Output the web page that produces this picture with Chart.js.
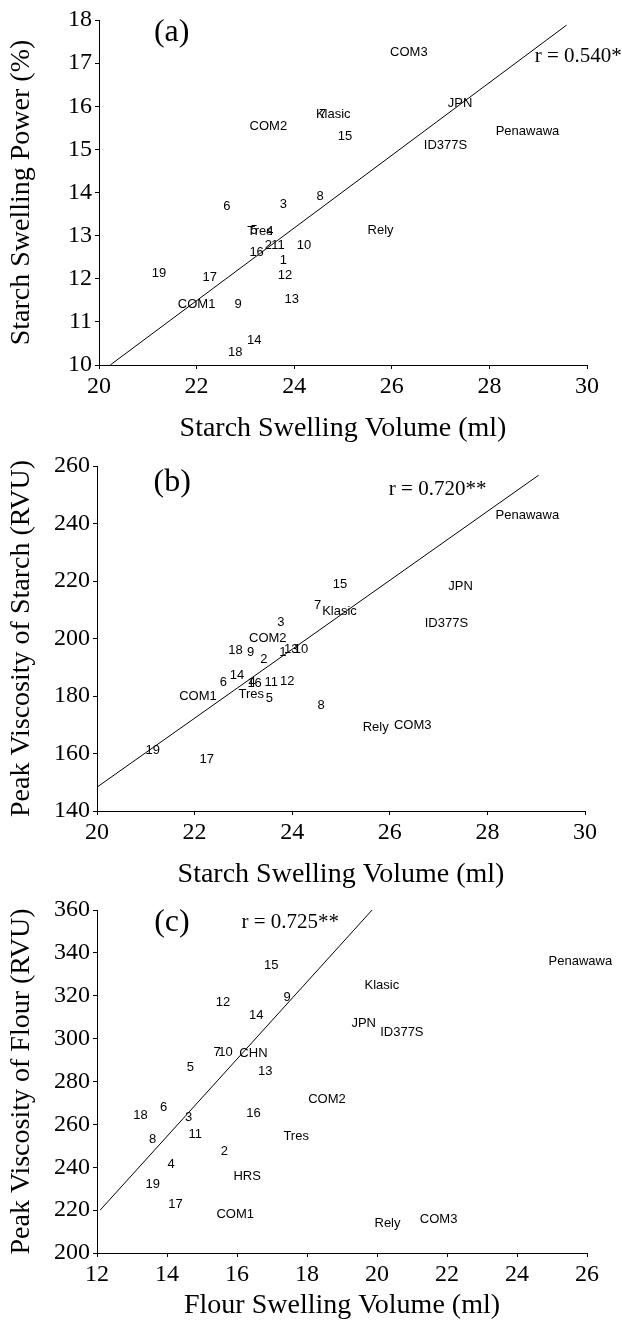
<!DOCTYPE html>
<html>
<head>
<meta charset="utf-8">
<title>Swelling volume vs swelling power and peak viscosity</title>
<script src="https://cdn.jsdelivr.net/npm/chart.js@4"></script>
<style>
  body { margin: 0; background: #fff; }
  #wrap { position: relative; width: 622px; height: 1324px; }
  canvas { position: absolute; left: 0; }
</style>
</head>
<body>
<div id="wrap">
  <canvas id="chartA" width="622" height="445" style="top:0px"></canvas>
  <canvas id="chartB" width="622" height="445" style="top:446px"></canvas>
  <canvas id="chartC" width="622" height="434" style="top:890px"></canvas>
</div>
<script>
// --- (a) starch swelling volume vs starch swelling power
const namesA = ['1','2','3','4','5','6','7','8','9','10','11','12','13','14','15','16','17','18','19',
                'COM1','COM2','COM3','Klasic','Tres','Rely','JPN','ID377S','Penawawa'];
const volA   = [23.78, 23.47, 23.78, 23.50, 23.18, 22.62, 24.58, 24.53, 22.85, 24.20, 23.67, 23.81, 23.95, 23.18, 25.04, 23.23, 22.27, 22.79, 21.23,
                22.00, 23.47, 26.35, 24.80, 23.30, 25.77, 27.40, 27.10, 28.78];
const powerA = [12.43, 12.78, 13.73, 13.09, 13.13, 13.67, 15.81, 13.90, 11.41, 12.78, 12.78, 12.07, 11.52, 10.56, 15.31, 12.62, 12.03, 10.29, 12.12,
                11.41, 15.54, 17.25, 15.81, 13.09, 13.13, 16.07, 15.10, 15.41];
const fitAX = [20.23, 29.58];
const fitAY = [10, 17.88];

// --- (b) starch swelling volume vs peak viscosity of starch
const namesB = ['1','2','3','4','5','6','7','8','9','10','11','12','13','14','15','16','17','18','19',
                'COM1','COM2','COM3','Klasic','Tres','Rely','JPN','ID377S','Penawawa'];
const volB   = [23.81, 23.42, 23.77, 23.18, 23.53, 22.59, 24.52, 24.59, 23.15, 24.18, 23.57, 23.90, 23.98, 22.87, 24.98, 23.23, 22.25, 22.84, 21.14,
                22.07, 23.50, 26.47, 24.97, 23.16, 25.71, 27.45, 27.16, 28.82];
const pvB    = [195.0, 192.8, 205.6, 184.8, 179.1, 184.8, 211.6, 176.8, 195.0, 196.2, 184.8, 185.1, 196.2, 187.3, 218.7, 184.5, 158.0, 196.0, 160.9,
                179.9, 200.2, 169.7, 209.3, 180.6, 169.1, 218.2, 205.3, 242.9];
const fitBX = [20.0, 29.05];
const fitBY = [148.3, 256.8];

// --- (c) flour swelling volume vs peak viscosity of flour
const namesC = ['2','3','4','5','6','7','8','9','10','11','12','13','14','15','16','17','18','19',
                'COM1','COM2','COM3','Klasic','Tres','Rely','JPN','ID377S','Penawawa','CHN','HRS'];
const volC   = [15.64, 14.62, 14.12, 14.67, 13.90, 15.43, 13.59, 17.43, 15.67, 14.81, 15.60, 16.81, 16.55, 16.98, 16.47, 14.24, 13.24, 13.59,
                15.95, 18.57, 21.76, 20.14, 17.69, 20.30, 19.62, 20.71, 25.81, 16.47, 16.29];
const pvC    = [247.3, 263.4, 241.1, 286.8, 267.9, 293.6, 252.8, 319.0, 293.6, 255.1, 317.0, 284.7, 310.7, 334.1, 265.0, 222.8, 264.0, 231.8,
                218.2, 271.8, 215.7, 324.8, 254.3, 213.9, 307.3, 302.7, 336.1, 293.3, 235.7];
const fitCX = [12.09, 19.86];
const fitCY = [220, 360];

const serif = '"Liberation Serif", "Times New Roman", serif';
const sans = '"Liberation Sans", Arial, sans-serif';

// draws the cultivar names in place of markers, plus panel letter and r value
const pointNames = {
    id: 'pointNames',
    afterDatasetsDraw(chart, args, opts) {
        const ctx = chart.ctx;
        const xs = chart.scales.x, ys = chart.scales.y;
        ctx.save();
        ctx.fillStyle = '#000';
        ctx.textBaseline = 'middle';
        ctx.textAlign = 'center';
        ctx.font = '13px ' + sans;
        chart.getDatasetMeta(0).data.forEach((pt, i) => {
            ctx.fillText(opts.names[i], pt.x, pt.y);
        });
        ctx.font = '32px ' + serif;
        ctx.fillText(opts.tag, xs.getPixelForValue(opts.tagAt[0]), ys.getPixelForValue(opts.tagAt[1]));
        ctx.font = '21px ' + serif;
        ctx.textAlign = opts.rAlign;
        ctx.fillText(opts.r, xs.getPixelForValue(opts.rAt[0]), ys.getPixelForValue(opts.rAt[1]));
        ctx.restore();
    }
};

function axis(min, max, step, title, size, titlePad) {
    return {
        type: 'linear',
        min: min, max: max,
        ticks: { stepSize: step, color: '#000', padding: 3, font: { family: serif, size: 24 } },
        grid: { display: true, drawOnChartArea: false, drawTicks: true, tickLength: 4, color: '#000' },
        border: { display: true, color: '#000', width: 1 },
        title: { display: true, text: title, color: '#000', padding: titlePad, font: { family: serif, size: 28 } },
        afterFit: s => { if (s.isHorizontal()) s.height = size; else s.width = size; }
    };
}

function makePanel(id, p) {
    new Chart(document.getElementById(id), {
        type: 'scatter',
        data: {
            datasets: [
                { data: p.xs.map((x, i) => ({ x: x, y: p.ys[i] })), pointRadius: 0, showLine: false },
                { type: 'line', data: p.fitX.map((x, i) => ({ x: x, y: p.fitY[i] })),
                  borderColor: '#000', borderWidth: 1, pointRadius: 0, fill: false }
            ]
        },
        options: {
            responsive: false,
            animation: false,
            layout: { padding: { top: 20, right: p.right, left: 0, bottom: 0 } },
            scales: {
                x: axis(p.xMin, p.xMax, 2, p.xTitle, p.xH, { top: 0, bottom: p.xTitlePad }),
                y: axis(p.yMin, p.yMax, p.yStep, p.yTitle, p.yW, { top: 5, bottom: 0 })
            },
            plugins: {
                legend: { display: false },
                tooltip: { enabled: false },
                pointNames: { names: p.names, tag: p.tag, tagAt: p.tagAt, r: p.r, rAt: p.rAt, rAlign: p.rAlign }
            }
        },
        plugins: [pointNames]
    });
}

makePanel('chartA', {
    names: namesA, xs: volA, ys: powerA, fitX: fitAX, fitY: fitAY,
    xMin: 20, xMax: 30, yMin: 10, yMax: 18, yStep: 1,
    xTitle: 'Starch Swelling Volume (ml)', yTitle: 'Starch Swelling Power (%)',
    xH: 80, yW: 99, right: 35, xTitlePad: 0,
    tag: '(a)', tagAt: [21.49, 17.70], r: 'r = 0.540*', rAt: [28.93, 17.15], rAlign: 'left'
});

makePanel('chartB', {
    names: namesB, xs: volB, ys: pvB, fitX: fitBX, fitY: fitBY,
    xMin: 20, xMax: 30, yMin: 140, yMax: 260, yStep: 20,
    xTitle: 'Starch Swelling Volume (ml)', yTitle: 'Peak Viscosity of Starch (RVU)',
    xH: 80, yW: 97, right: 37, xTitlePad: 0,
    tag: '(b)', tagAt: [21.54, 254.3], r: 'r = 0.720**', rAt: [26.98, 252.0], rAlign: 'center'
});

makePanel('chartC', {
    names: namesC, xs: volC, ys: pvC, fitX: fitCX, fitY: fitCY,
    xMin: 12, xMax: 26, yMin: 200, yMax: 360, yStep: 20,
    xTitle: 'Flour Swelling Volume (ml)', yTitle: 'Peak Viscosity of Flour (RVU)',
    xH: 71, yW: 97, right: 35, xTitlePad: 2,
    tag: '(c)', tagAt: [14.14, 354.2], r: 'r = 0.725**', rAt: [17.52, 354.1], rAlign: 'center'
});
</script>
</body>
</html>
